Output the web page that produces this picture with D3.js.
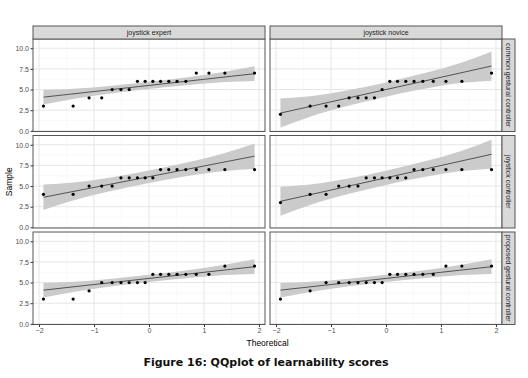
<!DOCTYPE html>
<html>
<head>
<meta charset="utf-8">
<script src="https://cdn.jsdelivr.net/npm/d3@7"></script>
<style>
  body { margin: 0; background: #fff; }
  svg { display: block; }
</style>
</head>
<body>
<div id="graf"></div>
<script>
// valores
const columnas = ['joystick expert', 'joystick novice']
const filas = ['common gestural controller', 'joystick controller', 'proposed gestural controller']

const teoricos = [-1.92, -1.38, -1.09, -0.86, -0.67, -0.51, -0.36, -0.21, -0.07,
  0.07, 0.21, 0.36, 0.51, 0.67, 0.86, 1.09, 1.38, 1.92]

// orden: fila por fila, columna izquierda y derecha
const muestras = [
  [3, 3, 4, 4, 5, 5, 5, 6, 6, 6, 6, 6, 6, 6, 7, 7, 7, 7],
  [2, 3, 3, 3, 4, 4, 4, 4, 5, 6, 6, 6, 6, 6, 6, 6, 6, 7],
  [4, 4, 5, 5, 5, 6, 6, 6, 6, 6, 7, 7, 7, 7, 7, 7, 7, 7],
  [3, 4, 4, 5, 5, 5, 6, 6, 6, 6, 6, 6, 7, 7, 7, 7, 7, 7],
  [3, 3, 4, 5, 5, 5, 5, 5, 5, 6, 6, 6, 6, 6, 6, 6, 7, 7],
  [3, 4, 5, 5, 5, 5, 5, 5, 5, 6, 6, 6, 6, 6, 6, 7, 7, 7],
]

const lineaX = [-1.92, 1.92]
const lineas = [
  [4.08, 6.92],
  [2.15, 7.85],
  [3.64, 8.62],
  [3.15, 8.85],
  [4.08, 6.92],
  [4.08, 6.92],
]

const bandaX = [-1.92, -1.38, -0.67, 0, 0.67, 1.38, 1.92]
const bandaBaja = [
  [3.20, 3.86, 4.54, 5.07, 5.53, 5.91, 6.04],
  [0.39, 1.72, 3.07, 4.14, 5.06, 5.81, 6.08],
  [2.09, 3.25, 4.44, 5.37, 6.18, 6.83, 7.07],
  [1.39, 2.72, 4.07, 5.14, 6.06, 6.81, 7.08],
  [3.20, 3.86, 4.54, 5.07, 5.53, 5.91, 6.04],
  [3.20, 3.86, 4.54, 5.07, 5.53, 5.91, 6.04],
]
const bandaAlta = [
  [4.96, 5.10, 5.47, 5.93, 6.46, 7.14, 7.81],
  [3.92, 4.19, 4.94, 5.86, 6.93, 8.28, 9.61],
  [5.18, 5.42, 6.07, 6.88, 7.81, 9.00, 10.16],
  [4.92, 5.19, 5.94, 6.86, 7.93, 9.28, 10.61],
  [4.96, 5.10, 5.47, 5.93, 6.46, 7.14, 7.81],
  [4.96, 5.10, 5.47, 5.93, 6.46, 7.14, 7.81],
]

const ticksY = [0, 2.5, 5, 7.5, 10]
const ticksYmenor = [1.25, 3.75, 6.25, 8.75]
const ticksX = [-2, -1, 0, 1, 2]
const ticksXmenor = [-1.5, -0.5, 0.5, 1.5]

const anchoTotal = 528
const altoTotal = 378

const margin = { top: 39, left: 33 }
const anchoPanel = 232
const altoPanel = 92.5
const sepX = 5
const sepY = 4
const strip = 13

const svg = d3.select('#graf')
  .append('svg')
  .attr('width', anchoTotal)
  .attr('height', altoTotal)
  .style('font-family', 'Arial, "Liberation Sans", sans-serif')

const x = d3.scaleLinear()
  .domain([-2.11, 2.11])
  .range([0, anchoPanel])

const y = d3.scaleLinear()
  .domain([-0.08, 11.12])
  .range([altoPanel, 0])

const area = d3.area()
  .x((d, i) => x(bandaX[i]))
  .y0(d => y(d[0]))
  .y1(d => y(d[1]))
  .curve(d3.curveMonotoneX)

filas.forEach((fila, r) => {
  columnas.forEach((col, c) => {
    const k = r * 2 + c
    const px = margin.left + c * (anchoPanel + sepX)
    const py = margin.top + r * (altoPanel + sepY)
    const g = svg.append('g').attr('transform', `translate(${px}, ${py})`)

    // grilla
    g.selectAll('.menorY').data(ticksYmenor).enter().append('line')
      .attr('x1', 0).attr('x2', anchoPanel)
      .attr('y1', d => y(d)).attr('y2', d => y(d))
      .attr('stroke', '#f2f2f2').attr('stroke-width', 0.5)
    g.selectAll('.menorX').data(ticksXmenor).enter().append('line')
      .attr('y1', 0).attr('y2', altoPanel)
      .attr('x1', d => x(d)).attr('x2', d => x(d))
      .attr('stroke', '#f2f2f2').attr('stroke-width', 0.5)
    g.selectAll('.mayorY').data(ticksY).enter().append('line')
      .attr('x1', 0).attr('x2', anchoPanel)
      .attr('y1', d => y(d)).attr('y2', d => y(d))
      .attr('stroke', '#e6e6e6').attr('stroke-width', 1)
    g.selectAll('.mayorX').data(ticksX).enter().append('line')
      .attr('y1', 0).attr('y2', altoPanel)
      .attr('x1', d => x(d)).attr('x2', d => x(d))
      .attr('stroke', '#e6e6e6').attr('stroke-width', 1)

    // banda de confianza
    const banda = bandaBaja[k].map((v, i) => [v, bandaAlta[k][i]])
    g.append('path')
      .datum(banda)
      .attr('d', area)
      .attr('fill', '#cbcbcb')

    // linea qq
    g.append('line')
      .attr('x1', x(lineaX[0])).attr('x2', x(lineaX[1]))
      .attr('y1', y(lineas[k][0])).attr('y2', y(lineas[k][1]))
      .attr('stroke', '#000').attr('stroke-width', 0.6)

    // puntos
    g.selectAll('circle').data(muestras[k]).enter().append('circle')
      .attr('cx', (d, i) => x(teoricos[i]))
      .attr('cy', d => y(d))
      .attr('r', 1.6)
      .attr('fill', '#000')

    // borde
    g.append('rect')
      .attr('width', anchoPanel).attr('height', altoPanel)
      .attr('fill', 'none').attr('stroke', '#555').attr('stroke-width', 1)

    // eje y
    if (c === 0) {
      const ejeY = g.append('g')
        .call(d3.axisLeft(y).tickValues(ticksY).tickFormat(d3.format('.1f')).tickSize(2.5).tickPadding(1.5))
      ejeY.select('.domain').remove()
      ejeY.selectAll('line').attr('stroke', '#333')
      ejeY.selectAll('text').attr('fill', '#4d4d4d').style('font-size', '7px').style('font-family', 'Arial, "Liberation Sans", sans-serif')
    }

    // eje x
    if (r === filas.length - 1) {
      const ejeX = g.append('g')
        .attr('transform', `translate(0, ${altoPanel})`)
        .call(d3.axisBottom(x).tickValues(ticksX).tickFormat(d3.format('d')).tickSize(2.5).tickPadding(1.5))
      ejeX.select('.domain').remove()
      ejeX.selectAll('line').attr('stroke', '#333')
      ejeX.selectAll('text').attr('fill', '#4d4d4d').style('font-size', '7px').style('font-family', 'Arial, "Liberation Sans", sans-serif')
    }

    // tiras superiores
    if (r === 0) {
      g.append('rect')
        .attr('y', -strip).attr('width', anchoPanel).attr('height', strip)
        .attr('fill', '#d9d9d9').attr('stroke', '#555').attr('stroke-width', 1)
      g.append('text')
        .attr('x', anchoPanel / 2).attr('y', -strip / 2)
        .attr('text-anchor', 'middle').attr('dominant-baseline', 'central')
        .attr('fill', '#1a1a1a').style('font-size', '7px')
        .text(col)
    }

    // tiras derechas
    if (c === columnas.length - 1) {
      g.append('rect')
        .attr('x', anchoPanel).attr('width', strip).attr('height', altoPanel)
        .attr('fill', '#d9d9d9').attr('stroke', '#555').attr('stroke-width', 1)
      g.append('text')
        .attr('transform', `translate(${anchoPanel + strip / 2}, ${altoPanel / 2}) rotate(90)`)
        .attr('text-anchor', 'middle').attr('dominant-baseline', 'central')
        .attr('fill', '#1a1a1a').style('font-size', '7px')
        .text(fila)
    }
  })
})

const totalAlto = 3 * altoPanel + 2 * sepY
const totalAncho = 2 * anchoPanel + sepX

svg.append('text')
  .attr('transform', `translate(9, ${margin.top + totalAlto / 2}) rotate(-90)`)
  .attr('text-anchor', 'middle').attr('dominant-baseline', 'central')
  .style('font-size', '8.5px').attr('fill', '#000')
  .text('Sample')

svg.append('text')
  .attr('x', margin.left + totalAncho / 2).attr('y', 343)
  .attr('text-anchor', 'middle').attr('dominant-baseline', 'central')
  .style('font-size', '8.5px').attr('fill', '#000')
  .text('Theoretical')

svg.append('text')
  .attr('x', 266).attr('y', 362)
  .attr('text-anchor', 'middle').attr('dominant-baseline', 'central')
  .style('font-size', '11px').style('font-weight', 'bold')
  .style('font-family', '"DejaVu Sans", Verdana, sans-serif')
  .attr('fill', '#111')
  .text('Figure 16: QQplot of learnability scores')
</script>
</body>
</html>
